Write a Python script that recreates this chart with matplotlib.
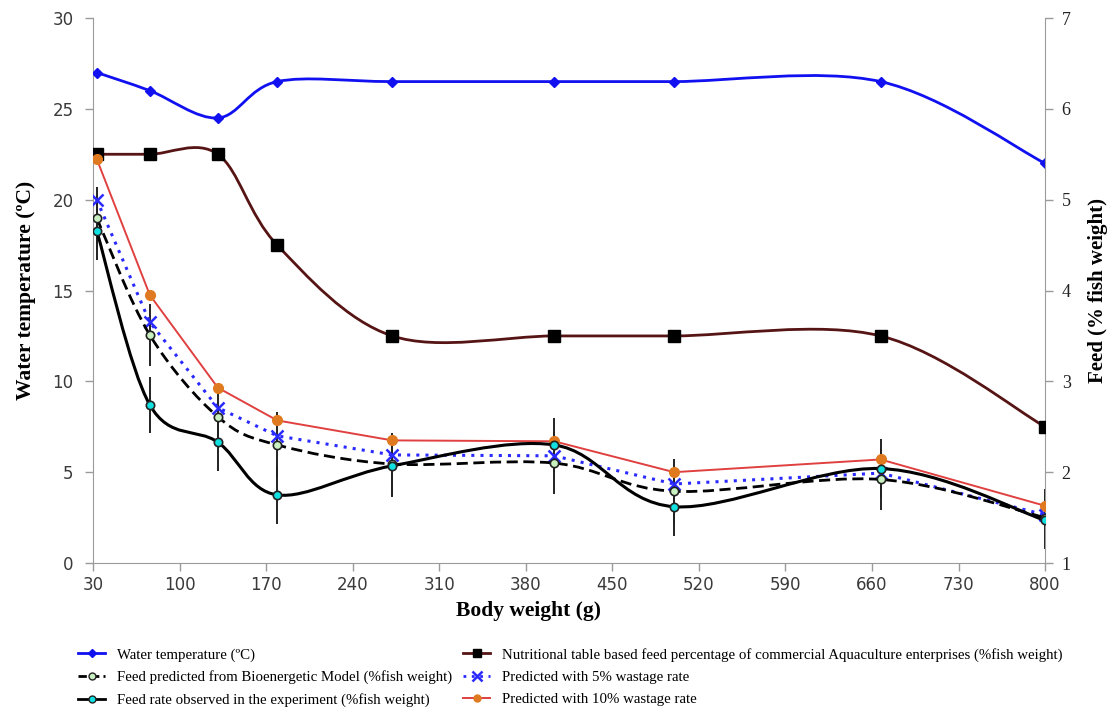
import numpy as np
import matplotlib.pyplot as plt
from matplotlib.path import Path
from matplotlib.patches import PathPatch
from matplotlib.lines import Line2D

# body weight (g)
weight = [33, 76, 131, 179, 272, 403, 500, 667, 800]
# left axis
water_temp = [27, 26, 24.5, 26.5, 26.5, 26.5, 26.5, 26.5, 22]
# right axis (% fish weight)
nutri_table = [5.5, 5.5, 5.5, 4.5, 3.5, 3.5, 3.5, 3.5, 2.5]
bioenergetic = [4.8, 3.51, 2.61, 2.3, 2.09, 2.1, 1.79, 1.92, 1.5]
bio_err = [0.34, 0.34, 0.3, 0.36, 0.34, 0.34, 0.36, 0.34, 0.32]
observed = [4.66, 2.74, 2.33, 1.75, 2.07, 2.3, 1.62, 2.04, 1.47]
obs_err = [0.32, 0.31, 0.32, 0.32, 0.34, 0.3, 0.32, 0.32, 0.32]
waste5 = [5.0, 3.65, 2.71, 2.4, 2.19, 2.18, 1.87, 1.99, 1.53]
waste10 = [5.45, 3.95, 2.93, 2.57, 2.35, 2.34, 2.0, 2.14, 1.63]

serif = 'Liberation Serif'


def smooth(ax, x, y, **kw):
    # excel-like smoothed line (catmull-rom as cubic bezier)
    x = np.asarray(x, float)
    y = np.asarray(y, float)
    n = len(x)
    verts = [(x[0], y[0])]
    codes = [Path.MOVETO]
    for i in range(n - 1):
        a = max(i - 1, 0)
        b = min(i + 2, n - 1)
        c1 = (x[i] + (x[i + 1] - x[a]) / 6, y[i] + (y[i + 1] - y[a]) / 6)
        c2 = (x[i + 1] - (x[b] - x[i]) / 6, y[i + 1] - (y[b] - y[i]) / 6)
        verts += [c1, c2, (x[i + 1], y[i + 1])]
        codes += [Path.CURVE4] * 3
    ax.add_patch(PathPatch(Path(verts, codes), fill=False, **kw))


fig = plt.figure(figsize=(11.12, 7.09), dpi=100)
ax = fig.add_axes([0.0836, 0.2059, 0.8562, 0.7687])
ax2 = ax.twinx()

# water temperature on the left axis
smooth(ax, weight, water_temp, edgecolor='#1010f0', lw=2, zorder=3)
ax.plot(weight, water_temp, ls='none', marker='D', ms=5, color='#1010f0', zorder=4)

# feed series on the right axis
smooth(ax2, weight, nutri_table, edgecolor='#561414', lw=2, zorder=3)
ax2.plot(weight, nutri_table, ls='none', marker='s', ms=8, color='black', zorder=4)

ax2.errorbar(weight, bioenergetic, yerr=bio_err, fmt='none', ecolor='#222222', elinewidth=1.4, zorder=2)
ax2.errorbar(weight, observed, yerr=obs_err, fmt='none', ecolor='#222222', elinewidth=1.4, zorder=2)

ax2.plot(weight, waste10, color='#e04040', lw=1.4, marker='o', ms=7, mfc='#e07a20', mec='#e07a20', zorder=5)
ax2.plot(weight, waste5, color='#2a2aff', lw=2.2, ls=(0, (1, 2)), marker='x', ms=8, mew=1.8, mec='#2a2aff', zorder=5)

smooth(ax2, weight, bioenergetic, edgecolor='black', lw=2, ls=(0, (4, 2)), zorder=6)
ax2.plot(weight, bioenergetic, ls='none', marker='o', ms=6, mfc='#c8f0c0', mec='#222222', mew=1.2, zorder=7)

smooth(ax2, weight, observed, edgecolor='black', lw=2.2, zorder=6)
ax2.plot(weight, observed, ls='none', marker='o', ms=6, mfc='#10e0e0', mec='#222222', mew=1.2, zorder=7)

# axes
ax.set_xlim(30, 800)
ax.set_ylim(0, 30)
ax2.set_ylim(1, 7)
ax.set_xticks(np.arange(30, 801, 70))
ax.set_yticks(np.arange(0, 31, 5))
ax2.set_yticks(np.arange(1, 8, 1))

for a in (ax, ax2):
    a.spines['top'].set_visible(False)
    for s in ('left', 'right', 'bottom'):
        a.spines[s].set_color('#9a9a9a')
    a.tick_params(colors='#9a9a9a', length=6, width=1)
ax.spines['right'].set_visible(False)
ax2.spines['left'].set_visible(False)
ax2.spines['bottom'].set_visible(False)
ax.tick_params(axis='both', labelcolor='#3a3a3a', labelsize=12)
ax.tick_params(axis='y', pad=8)
ax2.tick_params(axis='y', labelcolor='#222222', labelsize=13, pad=6)
for t in ax2.get_yticklabels():
    t.set_fontfamily(serif)

ax.set_xlabel('Body weight (g)', fontfamily=serif, fontweight='bold', fontsize=15.5, labelpad=6)
ax.xaxis.set_label_coords(0.457, -0.07)
ax.set_ylabel('Water temperature (\u00baC)', fontfamily=serif, fontweight='bold', fontsize=15.5, labelpad=12)
ax2.set_ylabel('Feed (% fish weight)', fontfamily=serif, fontweight='bold', fontsize=15, labelpad=12)

handles = [
    Line2D([], [], color='#1010f0', lw=2, marker='D', ms=4),
    Line2D([], [], color='black', lw=2, ls=(0, (3, 1.5)), marker='o', ms=5, mfc='#c8f0c0', mec='#222222'),
    Line2D([], [], color='black', lw=2, marker='o', ms=5, mfc='#10e0e0', mec='#222222'),
    Line2D([], [], color='#561414', lw=2, marker='s', ms=6, mfc='black', mec='black'),
    Line2D([], [], color='#2a2aff', lw=2, ls=(0, (1, 2)), marker='x', ms=7, mew=1.8),
    Line2D([], [], color='#e04040', lw=1.4, marker='o', ms=5, mfc='#e07a20', mec='#e07a20'),
]
labels = [
    'Water temperature (\u00baC)',
    'Feed predicted from Bioenergetic Model (%fish weight)',
    'Feed rate observed in the experiment (%fish weight)',
    'Nutritional table based feed percentage of commercial Aquaculture enterprises (%fish weight)',
    'Predicted with 5% wastage rate',
    'Predicted with 10% wastage rate',
]
fig.legend(handles, labels, ncol=2, loc='upper left', bbox_to_anchor=(0.065, 0.095),
           bbox_transform=fig.transFigure, frameon=False, prop={'family': serif, 'size': 10.7},
           handlelength=1.8, handletextpad=0.8, labelspacing=0.6, columnspacing=0.75, borderaxespad=0)

fig.savefig('out.png', dpi=100)
